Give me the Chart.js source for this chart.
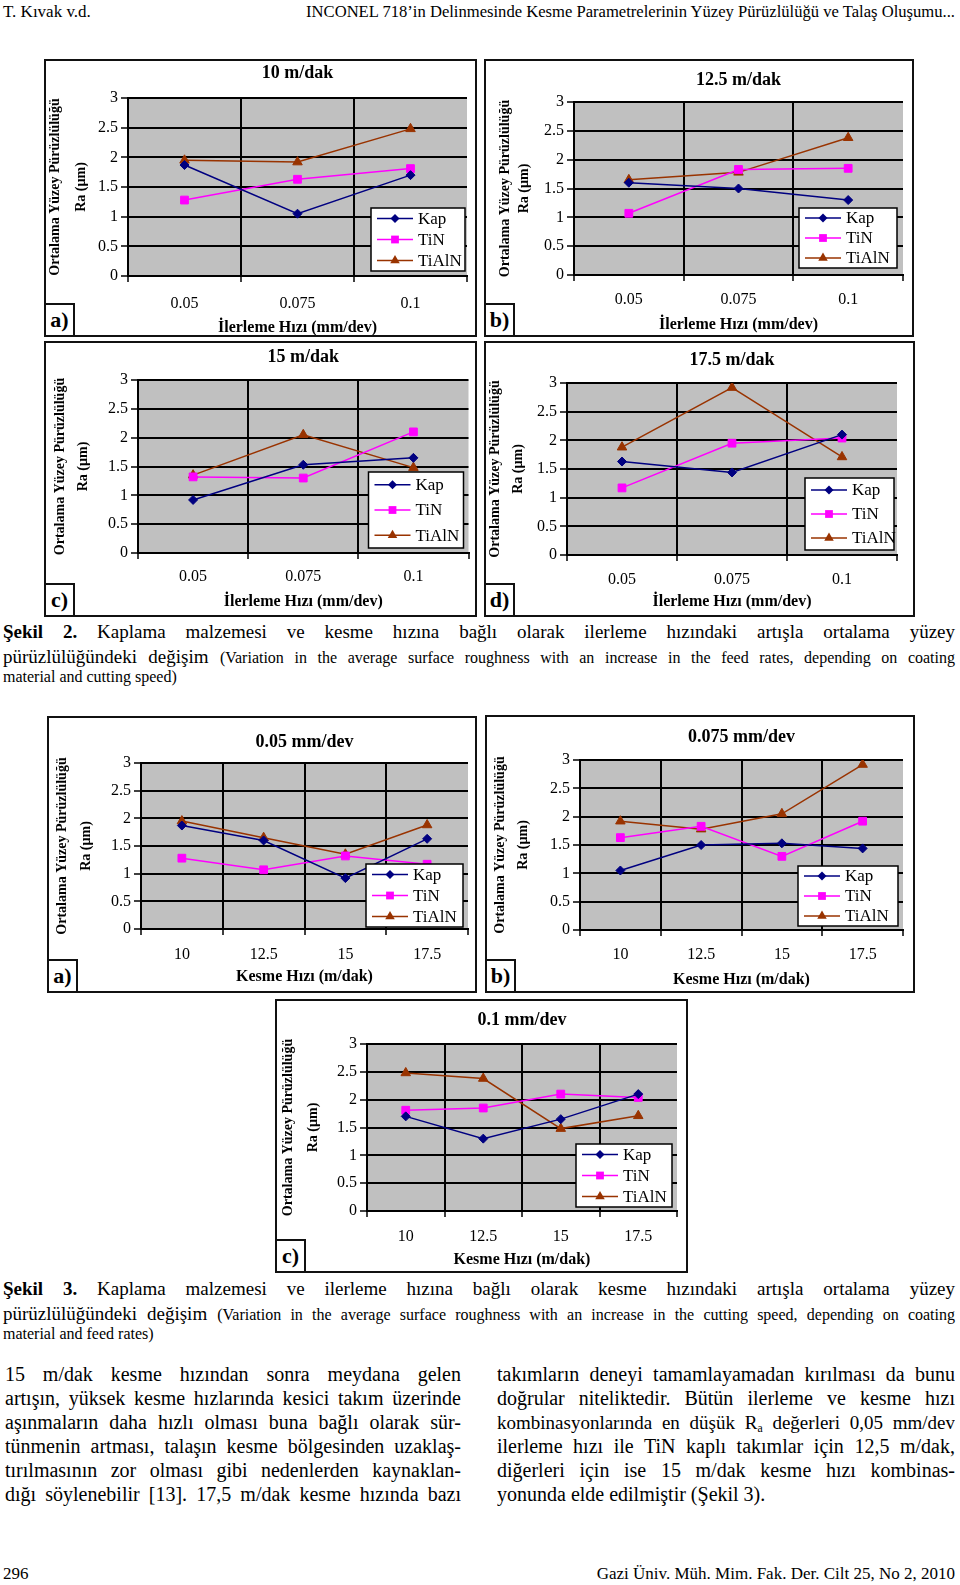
<!DOCTYPE html>
<html><head><meta charset="utf-8">
<script src="https://cdn.jsdelivr.net/npm/chart.js@4.4.0/dist/chart.umd.min.js"></script>
<style>
html,body{margin:0;padding:0;background:#fff}
body{width:960px;height:1585px;position:relative;overflow:hidden;font-family:"Liberation Serif","Times New Roman",serif;color:#000}
.t{position:absolute;white-space:nowrap}
.j{position:absolute;text-align:justify;text-align-last:justify}
.panel{position:absolute;border:2px solid #111;box-sizing:border-box;background:#fff}
.panel canvas{position:absolute;left:0;top:0}
.tag{position:absolute;left:-2px;bottom:-2px;width:31px;height:34px;border:2px solid #111;box-sizing:border-box;background:#fff;font-weight:bold;font-size:22px;line-height:30px;text-align:center}
sub{font-size:0.62em;line-height:0;vertical-align:-0.25em}
</style></head>
<body>
<div class="t" style="left:3px;top:2px;font-size:17px;line-height:20px">T. Kıvak v.d.</div>
<div class="t" style="right:5px;top:2px;font-size:16.6px;line-height:20px">INCONEL 718’in Delinmesinde Kesme Parametrelerinin Yüzey Pürüzlülüğü ve Talaş Oluşumu...</div>

<div class="j" style="left:3px;width:952px;top:620px;font-size:19px;line-height:24px"><b>Şekil 2.</b> Kaplama malzemesi ve kesme hızına bağlı olarak ilerleme hızındaki artışla ortalama yüzey</div>
<div class="j" style="left:3px;width:952px;top:645px;font-size:19px;line-height:24px">pürüzlülüğündeki değişim <span style="font-size:16px">(Variation in the average surface roughness with an increase in the feed rates, depending on coating</span></div>
<div class="t" style="left:3px;top:667px;font-size:16px;line-height:20px">material and cutting speed)</div>

<div class="j" style="left:3px;width:952px;top:1277px;font-size:19px;line-height:24px"><b>Şekil 3.</b> Kaplama malzemesi ve ilerleme hızına bağlı olarak kesme hızındaki artışla ortalama yüzey</div>
<div class="j" style="left:3px;width:952px;top:1302px;font-size:19px;line-height:24px">pürüzlülüğündeki değişim <span style="font-size:16px">(Variation in the average surface roughness with an increase in the cutting speed, depending on coating</span></div>
<div class="t" style="left:3px;top:1324px;font-size:16px;line-height:20px">material and feed rates)</div>

<div id="colL" style="position:absolute;left:5px;top:1362px;width:456px;font-size:20px;line-height:24px"></div>
<div id="colR" style="position:absolute;left:497px;top:1362px;width:458px;font-size:20px;line-height:24px"></div>

<div class="t" style="left:3px;top:1564px;font-size:17px;line-height:20px">296</div>
<div class="t" style="right:5px;top:1564px;font-size:17px;line-height:20px">Gazi Üniv. Müh. Mim. Fak. Der. Cilt 25, No 2, 2010</div>

<script>
// ---------- DATA ----------
const feedRates = ['0.05', '0.075', '0.1'];
const cuttingSpeeds = ['10', '12.5', '15', '17.5'];
const seriesNames = ['Kap', 'TiN', 'TiAlN'];
const yTicks = [0, 0.5, 1, 1.5, 2, 2.5, 3];

// Şekil 2: Ra vs feed rate at each cutting speed
const kap_v10 = [1.87, 1.05, 1.70];
const tin_v10 = [1.28, 1.63, 1.81];
const tialn_v10 = [1.95, 1.92, 2.48];
const kap_v125 = [1.60, 1.50, 1.30];
const tin_v125 = [1.07, 1.83, 1.85];
const tialn_v125 = [1.65, 1.78, 2.38];
const kap_v15 = [0.92, 1.53, 1.65];
const tin_v15 = [1.32, 1.30, 2.10];
const tialn_v15 = [1.35, 2.05, 1.48];
const kap_v175 = [1.63, 1.44, 2.10];
const tin_v175 = [1.17, 1.95, 2.04];
const tialn_v175 = [1.88, 2.92, 1.71];

// Şekil 3: Ra vs cutting speed at each feed rate
const kap_f005 = [1.87, 1.60, 0.92, 1.63];
const tin_f005 = [1.28, 1.07, 1.32, 1.17];
const tialn_f005 = [1.95, 1.65, 1.35, 1.88];
const kap_f0075 = [1.05, 1.50, 1.53, 1.44];
const tin_f0075 = [1.63, 1.83, 1.30, 1.92];
const tialn_f0075 = [1.92, 1.78, 2.05, 2.92];
const kap_f01 = [1.70, 1.30, 1.65, 2.10];
const tin_f01 = [1.81, 1.85, 2.10, 2.04];
const tialn_f01 = [2.48, 2.38, 1.48, 1.71];

const chartTitles = ['10 m/dak', '12.5 m/dak', '15 m/dak', '17.5 m/dak', '0.05 mm/dev', '0.075 mm/dev', '0.1 mm/dev'];
const feedAxisTitle = 'İlerleme Hızı (mm/dev)';
const speedAxisTitle = 'Kesme Hızı (m/dak)';
const yAxisTitle = ['Ortalama Yüzey Pürüzlülüğü', 'Ra (µm)'];

// ---------- BODY TEXT ----------
const leftLines = [
 '15 m/dak kesme hızından sonra meydana gelen',
 'artışın, yüksek kesme hızlarında kesici takım üzerinde',
 'aşınmaların daha hızlı olması buna bağlı olarak sür-',
 'tünmenin artması, talaşın kesme bölgesinden uzaklaş-',
 'tırılmasının zor olması gibi nedenlerden kaynaklan-',
 'dığı söylenebilir [13]. 17,5 m/dak kesme hızında bazı'
];
const rightLines = [
 'takımların deneyi tamamlayamadan kırılması da bunu',
 'doğrular niteliktedir. Bütün ilerleme ve kesme hızı',
 '<span style="font-size:19px">kombinasyonlarında en düşük R<sub>a</sub> değerleri 0,05 mm/dev</span>',
 'ilerleme hızı ile TiN kaplı takımlar için 12,5 m/dak,',
 'diğerleri için ise 15 m/dak kesme hızı kombinas-',
 'yonunda elde edilmiştir (Şekil 3).'
];
function fillCol(id, lines) {
  const el = document.getElementById(id);
  lines.forEach((ln, i) => {
    const d = document.createElement('div');
    d.style.height = '24px';
    d.style.overflow = 'hidden';
    if (i < lines.length - 1 || id === 'colL') { d.style.textAlign = 'justify'; d.style.textAlignLast = 'justify'; }
    d.innerHTML = ln;
    el.appendChild(d);
  });
}
fillCol('colL', leftLines);
fillCol('colR', rightLines);

// ---------- STYLES ----------
const seriesStyles = [
  {color: '#000080', pointStyle: 'rectRot', radius: 4.5},
  {color: '#ff00ff', pointStyle: 'rect', radius: 5.5},
  {color: '#993300', pointStyle: 'triangle', radius: 5.5}
];
const FONT = '"Liberation Serif","Times New Roman",serif';

// ---------- LAYOUT (panel boxes & plot areas, page pixels) ----------
const specs = [
  {tag:'a)', title:chartTitles[0], labels:feedRates, xTitle:feedAxisTitle, series:[kap_v10, tin_v10, tialn_v10],
   panel:{x:44,y:59,w:433,h:278}, plot:{l:128,t:98,r:467,b:276}, titleY:73, xLabY:302, xTitleY:328, yTitleX:55, yGap:26,
   legend:{w:94,h:63,right:2,bottom:5}},
  {tag:'b)', title:chartTitles[1], labels:feedRates, xTitle:feedAxisTitle, series:[kap_v125, tin_v125, tialn_v125],
   panel:{x:484,y:59,w:430,h:278}, plot:{l:574,t:102,r:903,b:275}, titleY:80, xLabY:298, xTitleY:325, yTitleX:505, yGap:19,
   legend:{w:98,h:60,right:6,bottom:7}},
  {tag:'c)', title:chartTitles[2], labels:feedRates, xTitle:feedAxisTitle, series:[kap_v15, tin_v15, tialn_v15],
   panel:{x:44,y:341,w:433,h:276}, plot:{l:138,t:380,r:469,b:553}, titleY:357, xLabY:575, xTitleY:602, yTitleX:60, yGap:23,
   legend:{w:95,h:76,right:5,bottom:5}},
  {tag:'d)', title:chartTitles[3], labels:feedRates, xTitle:feedAxisTitle, series:[kap_v175, tin_v175, tialn_v175],
   panel:{x:484,y:341,w:431,h:276}, plot:{l:567,t:383,r:897,b:555}, titleY:360, xLabY:578, xTitleY:602, yTitleX:495, yGap:23,
   legend:{w:89,h:72,right:3,bottom:5}},
  {tag:'a)', title:chartTitles[4], labels:cuttingSpeeds, xTitle:speedAxisTitle, series:[kap_f005, tin_f005, tialn_f005],
   panel:{x:47,y:716,w:430,h:277}, plot:{l:141,t:763,r:468,b:929}, titleY:742, xLabY:953, xTitleY:977, yTitleX:62, yGap:24,
   legend:{w:97,h:63,right:5,bottom:2}},
  {tag:'b)', title:chartTitles[5], labels:cuttingSpeeds, xTitle:speedAxisTitle, series:[kap_f0075, tin_f0075, tialn_f0075],
   panel:{x:485,y:715,w:430,h:278}, plot:{l:580,t:760,r:903,b:930}, titleY:737, xLabY:953, xTitleY:980, yTitleX:500, yGap:23,
   legend:{w:100,h:60,right:5,bottom:4}},
  {tag:'c)', title:chartTitles[6], labels:cuttingSpeeds, xTitle:speedAxisTitle, series:[kap_f01, tin_f01, tialn_f01],
   panel:{x:275,y:999,w:413,h:274}, plot:{l:367,t:1044,r:677,b:1211}, titleY:1020, xLabY:1235, xTitleY:1260, yTitleX:288, yGap:25,
   legend:{w:96,h:63,right:5,bottom:4}}
];

function drawMarker(ctx, style, x, y, r) {
  ctx.beginPath();
  if (style === 'rectRot') {
    ctx.moveTo(x - r, y); ctx.lineTo(x, y - r); ctx.lineTo(x + r, y); ctx.lineTo(x, y + r); ctx.closePath();
  } else if (style === 'rect') {
    const s = r * Math.SQRT1_2; ctx.rect(x - s, y - s, 2 * s, 2 * s);
  } else {
    let a = 0;
    ctx.moveTo(x + Math.sin(a) * r, y - Math.cos(a) * r);
    a += 2 * Math.PI / 3; ctx.lineTo(x + Math.sin(a) * r, y - Math.cos(a) * r);
    a += 2 * Math.PI / 3; ctx.lineTo(x + Math.sin(a) * r, y - Math.cos(a) * r);
    ctx.closePath();
  }
  ctx.fill();
}

const plotBg = {
  id: 'plotBg',
  beforeDraw(chart) {
    const {ctx, chartArea: a} = chart;
    ctx.save(); ctx.fillStyle = '#c0c0c0';
    ctx.fillRect(a.left, a.top, a.right - a.left, a.bottom - a.top);
    ctx.restore();
  }
};
const innerLegend = {
  id: 'innerLegend',
  afterDraw(chart, args, o) {
    const {ctx, chartArea: a} = chart;
    const x = a.right - o.right - o.w, y = a.bottom - o.bottom - o.h;
    ctx.save();
    ctx.fillStyle = '#fff'; ctx.fillRect(x, y, o.w, o.h);
    ctx.strokeStyle = '#000'; ctx.lineWidth = 1.5; ctx.strokeRect(x, y, o.w, o.h);
    const ds = chart.data.datasets, rowH = o.h / ds.length;
    ds.forEach((d, i) => {
      const cy = y + rowH * (i + 0.5);
      ctx.strokeStyle = d.borderColor; ctx.lineWidth = d.borderWidth;
      ctx.beginPath(); ctx.moveTo(x + 6, cy); ctx.lineTo(x + 42, cy); ctx.stroke();
      ctx.fillStyle = d.pointBackgroundColor;
      drawMarker(ctx, d.pointStyle, x + 24, cy, d.pointRadius);
      ctx.fillStyle = '#000'; ctx.font = '17px ' + FONT; ctx.textBaseline = 'middle'; ctx.textAlign = 'left';
      ctx.fillText(d.label, x + 47, cy + 1);
    });
    ctx.restore();
  }
};

function build(spec) {
  const B = 2, p = spec.panel;
  const div = document.createElement('div');
  div.className = 'panel';
  Object.assign(div.style, {left: p.x + 'px', top: p.y + 'px', width: p.w + 'px', height: p.h + 'px'});
  document.body.appendChild(div);
  const iw = p.w - 2 * B, ih = p.h - 2 * B, ix = p.x + B, iy = p.y + B;
  const cv = document.createElement('canvas');
  cv.width = iw; cv.height = ih; cv.style.width = iw + 'px'; cv.style.height = ih + 'px';
  div.appendChild(cv);
  const tag = document.createElement('div'); tag.className = 'tag'; tag.textContent = spec.tag; div.appendChild(tag);

  const a = spec.plot;
  const yW = a.l - ix, xH = (iy + ih) - a.b, topH = a.t - iy, padR = (ix + iw) - a.r;
  const tLH = 18 * 1.2;
  const tPt = spec.titleY - iy - tLH / 2;
  const tPb = topH - tPt - tLH;
  const xTickPad = spec.xLabY - a.b - 6 - 8;
  const xTitlePb = (iy + ih) - spec.xTitleY - 9.6;
  const yTitlePt = spec.yTitleX - ix - spec.yGap / 2;

  new Chart(cv, {
    type: 'line',
    data: {
      labels: spec.labels,
      datasets: spec.series.map((vals, i) => ({
        label: seriesNames[i],
        data: vals,
        borderColor: seriesStyles[i].color,
        backgroundColor: seriesStyles[i].color,
        pointBackgroundColor: seriesStyles[i].color,
        pointBorderColor: seriesStyles[i].color,
        pointBorderWidth: 1,
        pointStyle: seriesStyles[i].pointStyle,
        pointRadius: seriesStyles[i].radius,
        borderWidth: 1.5,
        tension: 0,
        fill: false
      }))
    },
    options: {
      responsive: false, animation: false, devicePixelRatio: 1,
      layout: {padding: {left: 0, top: 0, bottom: 0, right: padR}},
      plugins: {
        legend: {display: false}, tooltip: {enabled: false},
        title: {display: true, text: spec.title, fullSize: false, color: '#000',
          font: {family: FONT, size: 18, weight: 'bold', lineHeight: 1.2},
          padding: {top: tPt, bottom: tPb}},
        innerLegend: spec.legend
      },
      scales: {
        x: {
          type: 'category', offset: true,
          afterFit: s => { s.height = xH; },
          grid: {offset: true, drawOnChartArea: true, lineWidth: 2, tickLength: 6, tickColor: '#000', tickWidth: 1.5,
                 color: c => c.type === 'tick' ? '#000' : 'rgba(0,0,0,0)'},
          border: {display: true, color: '#000', width: 2},
          ticks: {color: '#000', font: {family: FONT, size: 16}, padding: xTickPad, maxRotation: 0},
          title: {display: true, text: spec.xTitle, color: '#000',
                  font: {family: FONT, size: 16, weight: 'bold', lineHeight: 1.2}, padding: {top: 0, bottom: xTitlePb}}
        },
        y: {
          min: 0, max: 3,
          afterFit: s => { s.width = yW; },
          afterBuildTicks: s => { s.ticks = yTicks.map(v => ({value: v})); },
          grid: {color: '#000', lineWidth: 2, tickLength: 7, tickColor: '#000', tickWidth: 1.5},
          border: {display: true, color: '#000', width: 2},
          ticks: {color: '#000', font: {family: FONT, size: 16}, padding: 3, callback: v => String(v)},
          title: {display: true, text: yAxisTitle, color: '#000',
                  font: {family: FONT, size: 14, weight: 'bold', lineHeight: spec.yGap / 14}, padding: {top: yTitlePt, bottom: 0}}
        }
      }
    },
    plugins: [plotBg, innerLegend]
  });
}
specs.forEach(build);
</script>
</body></html>
